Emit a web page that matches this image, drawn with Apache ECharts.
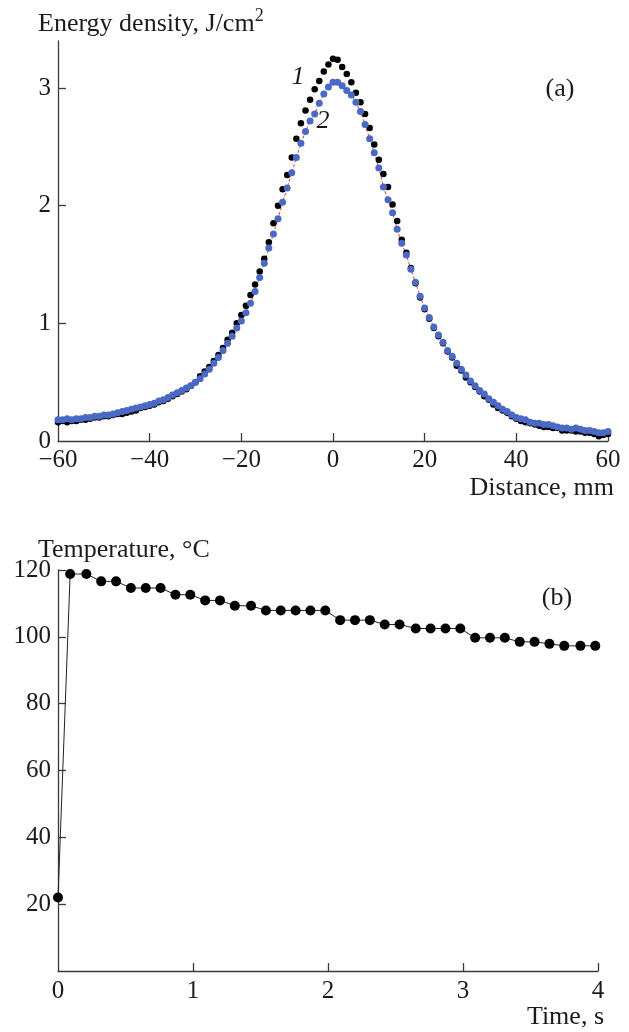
<!DOCTYPE html>
<html>
<head>
<meta charset="utf-8">
<script src="https://cdn.jsdelivr.net/npm/echarts@6/dist/echarts.min.js"></script>
<style>
  html, body { margin: 0; padding: 0; background: #fff; }
  #chart { width: 629px; height: 1032px; }
</style>
</head>
<body>
<div id="chart"></div>
<script>
// panel (a): energy density profile, mm
const distance = [
  -60, -59, -58, -57, -56, -55, -54, -53, -52, -51,
  -50, -49, -48, -47, -46, -45, -44, -43, -42, -41,
  -40, -39, -38, -37, -36, -35, -34, -33, -32, -31,
  -30, -29, -28, -27, -26, -25, -24, -23, -22, -21,
  -20, -19, -18, -17, -16, -15, -14, -13, -12, -11,
  -10, -9, -8, -7, -6, -5, -4, -3, -2, -1,
  0, 1, 2, 3, 4, 5, 6, 7, 8, 9,
  10, 11, 12, 13, 14, 15, 16, 17, 18, 19,
  20, 21, 22, 23, 24, 25, 26, 27, 28, 29,
  30, 31, 32, 33, 34, 35, 36, 37, 38, 39,
  40, 41, 42, 43, 44, 45, 46, 47, 48, 49,
  50, 51, 52, 53, 54, 55, 56, 57, 58, 59, 60
];
// curve 1 (black)
const energy1 = [
  0.16, 0.17, 0.16, 0.17, 0.17, 0.18, 0.18, 0.19, 0.20, 0.20,
  0.21, 0.21, 0.22, 0.23, 0.23, 0.24, 0.25, 0.26, 0.28, 0.29,
  0.30, 0.31, 0.33, 0.34, 0.36, 0.38, 0.40, 0.42, 0.44, 0.47,
  0.50, 0.55, 0.59, 0.63, 0.68, 0.73, 0.79, 0.86, 0.92, 1.00,
  1.07, 1.15, 1.24, 1.33, 1.44, 1.55, 1.69, 1.85, 2.00, 2.14,
  2.26, 2.41, 2.57, 2.70, 2.81, 2.90, 2.99, 3.06, 3.14, 3.20,
  3.25, 3.24, 3.18, 3.12, 3.05, 2.96, 2.88, 2.78, 2.66, 2.52,
  2.39, 2.27, 2.16, 2.01, 1.87, 1.71, 1.60, 1.47, 1.34, 1.22,
  1.12, 1.04, 0.96, 0.89, 0.83, 0.76, 0.71, 0.64, 0.60, 0.54,
  0.50, 0.46, 0.42, 0.38, 0.35, 0.31, 0.28, 0.26, 0.24, 0.21,
  0.19, 0.17, 0.16, 0.15, 0.14, 0.13, 0.12, 0.12, 0.11, 0.11,
  0.09, 0.09, 0.09, 0.08, 0.08, 0.07, 0.07, 0.06, 0.04, 0.05, 0.06
];
// curve 2 (blue)
const energy2 = [
  0.18, 0.18, 0.19, 0.18, 0.19, 0.19, 0.20, 0.20, 0.21, 0.21,
  0.22, 0.22, 0.23, 0.24, 0.25, 0.26, 0.27, 0.28, 0.29, 0.30,
  0.31, 0.32, 0.34, 0.35, 0.37, 0.39, 0.41, 0.43, 0.45, 0.47,
  0.50, 0.53, 0.57, 0.61, 0.66, 0.71, 0.77, 0.83, 0.89, 0.96,
  1.02, 1.09, 1.17, 1.27, 1.39, 1.51, 1.64, 1.76, 1.89, 2.03,
  2.15, 2.28, 2.41, 2.53, 2.63, 2.72, 2.78, 2.87, 2.95, 3.01,
  3.05, 3.05, 3.02, 2.98, 2.94, 2.88, 2.80, 2.69, 2.57, 2.45,
  2.32, 2.16, 2.05, 1.94, 1.80, 1.68, 1.58, 1.46, 1.35, 1.23,
  1.13, 1.05, 0.97, 0.90, 0.84, 0.77, 0.72, 0.66, 0.61, 0.56,
  0.51, 0.47, 0.43, 0.40, 0.36, 0.33, 0.30, 0.27, 0.25, 0.22,
  0.20, 0.19, 0.18, 0.16, 0.15, 0.15, 0.14, 0.14, 0.13, 0.12,
  0.11, 0.11, 0.10, 0.11, 0.10, 0.09, 0.09, 0.08, 0.07, 0.07, 0.08
];

// panel (b): temperature vs time
const time = [
  0, 0.09, 0.21, 0.32, 0.43, 0.54, 0.65, 0.76, 0.87, 0.98,
  1.09, 1.20, 1.31, 1.43, 1.54, 1.65, 1.76, 1.87, 1.98, 2.09,
  2.20, 2.31, 2.42, 2.53, 2.65, 2.76, 2.87, 2.98, 3.09, 3.20,
  3.31, 3.42, 3.53, 3.64, 3.75, 3.87, 3.98
];
const temperature = [
  22, 118.8, 118.8, 116.6, 116.6, 114.6, 114.6, 114.6, 112.6, 112.6,
  110.9, 110.9, 109.3, 109.3, 107.9, 107.9, 107.9, 107.9, 107.9, 105.0,
  105.0, 105.0, 103.7, 103.7, 102.5, 102.5, 102.5, 102.5, 99.7, 99.7,
  99.7, 98.5, 98.5, 97.9, 97.3, 97.3, 97.3
];

// tick labels
const distTicks = [-60, -40, -20, 0, 20, 40, 60];
const energyTicks = [0, 1, 2, 3];
const timeTicks = [0, 1, 2, 3, 4];
const tempTicks = [20, 40, 60, 80, 100, 120];

const FONT = '"Liberation Serif", "DejaVu Serif", serif';
const INK = '#1e1a1b';
const AXIS = '#3a3a3a';

const minus = v => (v < 0 ? '\u2212' + (-v) : String(v));

const axisCommon = {
  axisLine: { show: true, onZero: false, lineStyle: { color: AXIS, width: 1.3 } },
  axisTick: { show: true, inside: true, length: 8, lineStyle: { color: AXIS, width: 1.3 } },
  splitLine: { show: false },
  axisLabel: { color: INK, fontFamily: FONT, fontSize: 25, margin: 7 }
};

const chart = echarts.init(document.getElementById('chart'), null, { renderer: 'canvas' });

const option = {
  backgroundColor: '#fff',
  animation: false,
  grid: [
    { left: 58, right: 21, top: 41, height: 400 },
    { left: 58, right: 31, top: 570, height: 401 }
  ],
  xAxis: [
    {
      ...axisCommon, gridIndex: 0, type: 'value', min: -60, max: 60, interval: 20,
      axisTick: { ...axisCommon.axisTick, customValues: distTicks.slice(1) },
      axisLabel: { ...axisCommon.axisLabel, customValues: distTicks, formatter: minus }
    },
    {
      ...axisCommon, gridIndex: 1, type: 'value', min: 0, max: 4, interval: 1,
      axisTick: { ...axisCommon.axisTick, customValues: timeTicks.slice(1) },
      axisLabel: { ...axisCommon.axisLabel, margin: 8, customValues: timeTicks }
    }
  ],
  yAxis: [
    {
      ...axisCommon, gridIndex: 0, type: 'value', min: 0, max: 3.4, interval: 1,
      axisTick: { ...axisCommon.axisTick, customValues: energyTicks.slice(1) },
      axisLabel: { ...axisCommon.axisLabel, customValues: energyTicks }
    },
    {
      ...axisCommon, gridIndex: 1, type: 'value', min: 0, max: 120, interval: 20,
      axisTick: { ...axisCommon.axisTick, customValues: tempTicks },
      axisLabel: { ...axisCommon.axisLabel, customValues: tempTicks }
    }
  ],
  series: [
    {
      name: '1', type: 'line', xAxisIndex: 0, yAxisIndex: 0,
      data: distance.map((d, i) => [d, energy1[i]]),
      symbol: 'circle', symbolSize: 6.5, showAllSymbol: true,
      itemStyle: { color: '#000' },
      lineStyle: { width: 0, opacity: 0 }
    },
    {
      name: '2', type: 'line', xAxisIndex: 0, yAxisIndex: 0,
      data: distance.map((d, i) => [d, energy2[i]]),
      symbol: 'circle', symbolSize: 7, showAllSymbol: true,
      itemStyle: { color: '#4a69c4' },
      lineStyle: { width: 1, color: '#e0402a', type: [3, 2] }
    },
    {
      name: 'T', type: 'line', xAxisIndex: 1, yAxisIndex: 1,
      data: time.map((t, i) => [t, temperature[i]]),
      symbol: 'circle', symbolSize: 10, showAllSymbol: true, clip: false,
      itemStyle: { color: '#000' },
      lineStyle: { width: 1, color: '#222' }
    }
  ],
  graphic: [
    {
      type: 'text', x: 38, y: 22,
      style: {
        text: '{a|Energy density, J/cm}{s|2}',
        verticalAlign: 'middle', fill: INK,
        rich: {
          a: { fontFamily: FONT, fontSize: 26, fill: INK, lineHeight: 30, verticalAlign: 'bottom' },
          s: { fontFamily: FONT, fontSize: 18, fill: INK, verticalAlign: 'top' }
        }
      }
    },
    { type: 'text', x: 298, y: 77, style: { text: '1', font: 'italic 26px ' + FONT, fill: INK, align: 'center', verticalAlign: 'middle' } },
    { type: 'text', x: 323, y: 121, style: { text: '2', font: 'italic 26px ' + FONT, fill: INK, align: 'center', verticalAlign: 'middle' } },
    { type: 'text', x: 560, y: 89, style: { text: '(a)', font: '26px ' + FONT, fill: INK, align: 'center', verticalAlign: 'middle' } },
    { type: 'text', x: 614, y: 488, style: { text: 'Distance, mm', font: '26px ' + FONT, fill: INK, align: 'right', verticalAlign: 'middle' } },
    { type: 'text', x: 38, y: 550, style: { text: 'Temperature, \u00b0C', font: '26px ' + FONT, fill: INK, align: 'left', verticalAlign: 'middle' } },
    { type: 'text', x: 557, y: 598, style: { text: '(b)', font: '26px ' + FONT, fill: INK, align: 'center', verticalAlign: 'middle' } },
    { type: 'text', x: 604, y: 1017, style: { text: 'Time, s', font: '26px ' + FONT, fill: INK, align: 'right', verticalAlign: 'middle' } }
  ]
};

chart.setOption(option);
</script>
</body>
</html>
